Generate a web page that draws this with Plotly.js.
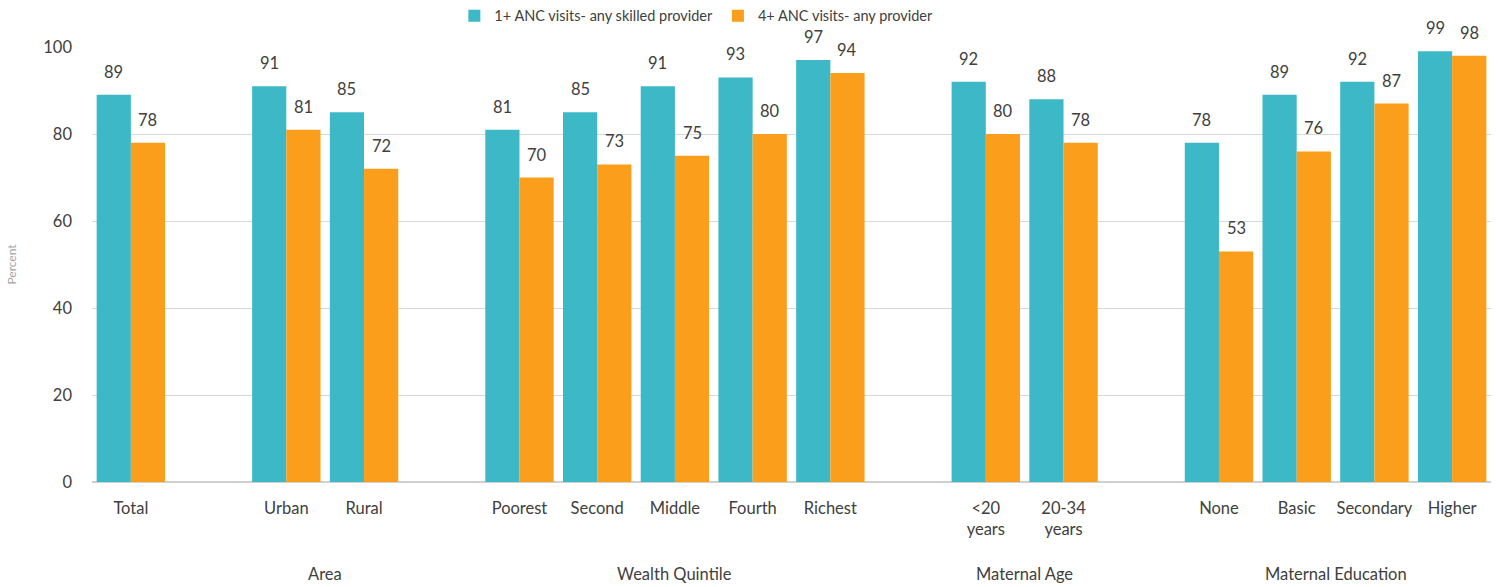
<!DOCTYPE html>
<html>
<head>
<meta charset="utf-8">
<script src="https://cdn.plot.ly/plotly-3.0.1.min.js"></script>
<style>
  html, body { margin: 0; padding: 0; background: #ffffff; }
  #chart { width: 1499px; height: 587px; }
</style>
</head>
<body>
<div id="chart"></div>
<script>
// Antenatal care coverage by background characteristic
const categories = ["Total", "Urban", "Rural", "Poorest", "Second", "Middle", "Fourth", "Richest",
                    "<20<br>years", "20-34<br>years", "None", "Basic", "Secondary", "Higher"];
// group index of each category (0 = overall total)
const groupIndex = [0, 1, 1, 2, 2, 2, 2, 2, 3, 3, 4, 4, 4, 4];
const groupNames = ["", "Area", "Wealth Quintile", "Maternal Age", "Maternal Education"];

const seriesNames = ["1+ ANC visits- any skilled provider", "4+ ANC visits- any provider"];
const anyVisit = [89, 91, 85, 81, 85, 91, 93, 97, 92, 88, 78, 89, 92, 99];
const fourVisits = [78, 81, 72, 70, 73, 75, 80, 94, 80, 78, 53, 76, 87, 98];

const colors = ["#3cb8c6", "#fb9e1b"];
const fontFamily = "Lato, 'Noto Sans', sans-serif";
const textColor = "#404040";

// one empty slot separates consecutive groups
const xPos = categories.map((c, i) => i + groupIndex[i]);

const traces = [anyVisit, fourVisits].map((vals, k) => ({
  type: "bar",
  name: seriesNames[k],
  x: xPos,
  y: vals,
  marker: { color: colors[k] },
  hoverinfo: "x+y"
}));

const annotations = [];
// value labels above each bar
[anyVisit, fourVisits].forEach((vals, k) => {
  vals.forEach((v, i) => {
    annotations.push({
      x: xPos[i] + (k === 0 ? -0.22 : 0.22),
      y: v,
      xref: "x", yref: "y",
      text: String(v),
      showarrow: false,
      yanchor: "bottom",
      yshift: 11,
      font: { family: fontFamily, size: 16.5, color: textColor }
    });
  });
});
// group titles under the category labels
groupNames.forEach((g, gi) => {
  if (!g) return;
  const xs = xPos.filter((_, i) => groupIndex[i] === gi);
  annotations.push({
    x: (Math.min(...xs) + Math.max(...xs)) / 2,
    y: 0,
    xref: "x", yref: "paper",
    yshift: -92,
    text: g,
    showarrow: false,
    yanchor: "middle",
    font: { family: fontFamily, size: 16.5, color: textColor }
  });
});

const layout = {
  width: 1499,
  height: 587,
  margin: { l: 92, r: 8, t: 47, b: 105, autoexpand: false },
  paper_bgcolor: "#ffffff",
  plot_bgcolor: "#ffffff",
  barmode: "group",
  bargap: 0.12,
  bargroupgap: 0,
  font: { family: fontFamily, size: 16, color: textColor },
  showlegend: true,
  legend: {
    orientation: "h",
    x: 0.432, xanchor: "center",
    yref: "container",
    y: 0.973, yanchor: "middle",
    font: { family: fontFamily, size: 14.5, color: textColor },
    itemwidth: 30,
    tracegroupgap: 0
  },
  xaxis: {
    range: [-0.5, xPos[xPos.length - 1] + 0.5],
    tickmode: "array",
    tickvals: xPos,
    ticktext: categories,
    showgrid: false,
    zeroline: false,
    showline: false,
    ticks: "",
    ticklabelstandoff: 14,
    tickfont: { family: fontFamily, size: 16.5, color: textColor },
    fixedrange: true
  },
  yaxis: {
    range: [0, 100],
    tickvals: [0, 20, 40, 60, 80, 100],
    showgrid: true,
    gridcolor: "#d9d9d9",
    gridwidth: 1,
    zeroline: true,
    zerolinecolor: "#d0d0d0",
    zerolinewidth: 2,
    ticks: "",
    ticklabelstandoff: 19,
    tickfont: { family: fontFamily, size: 16.5, color: textColor },
    title: { text: "Percent", font: { family: fontFamily, size: 12, color: "#a6a6a6" }, standoff: 24 },
    fixedrange: true
  },
  annotations: annotations
};

Plotly.newPlot("chart", traces, layout, { displayModeBar: false, staticPlot: true });
</script>
</body>
</html>
